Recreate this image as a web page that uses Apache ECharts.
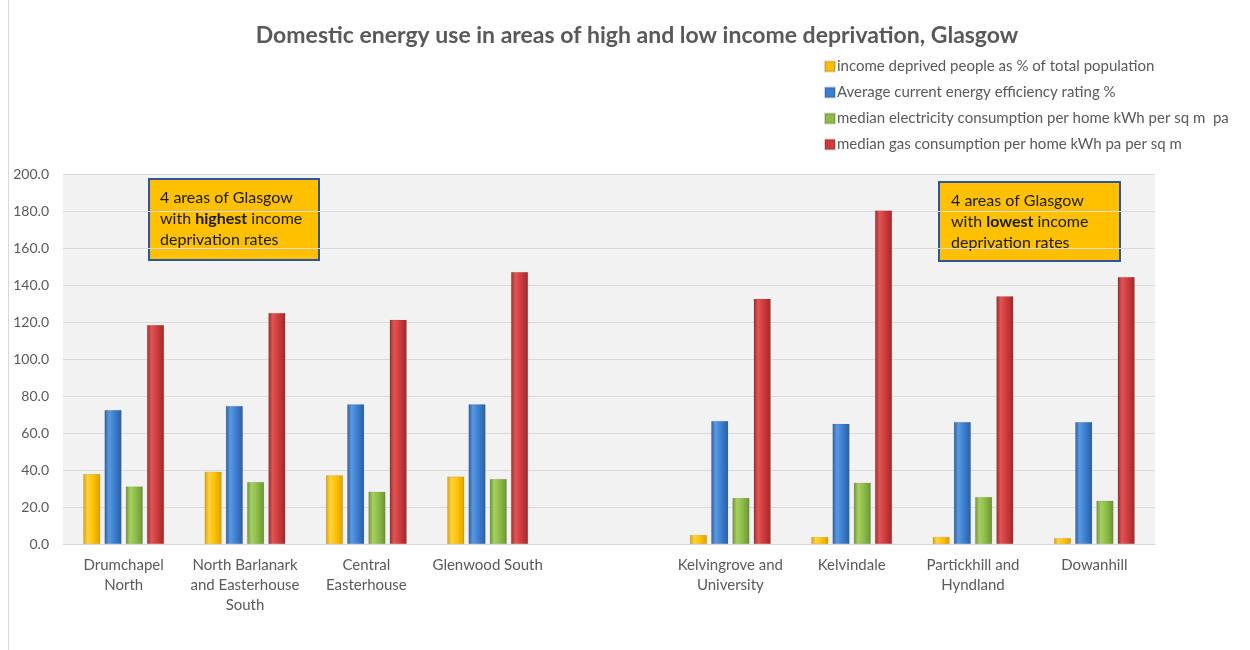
<!DOCTYPE html>
<html><head><meta charset="utf-8">
<script src="https://cdn.jsdelivr.net/npm/echarts@6/dist/echarts.min.js"></script>
<style>html,body{margin:0;padding:0;background:#fff}#c{width:1250px;height:650px}</style>
</head><body><div id="c"></div>
<script>
const categories = ["Drumchapel\nNorth", "North Barlanark\nand Easterhouse\nSouth", "Central\nEasterhouse", "Glenwood South", "", "Kelvingrove and\nUniversity", "Kelvindale", "Partickhill and\nHyndland", "Dowanhill"];
const incomeDeprived = [37.8, 39.1, 37.1, 36.5, null, 4.9, 3.8, 3.8, 3.2];
const energyEfficiency = [72.4, 74.6, 75.5, 75.5, null, 66.5, 65.0, 65.9, 65.9];
const electricity = [31.1, 33.5, 28.3, 35.1, null, 24.9, 33.1, 25.4, 23.4];
const gas = [118.4, 124.9, 121.2, 147.0, null, 132.6, 180.3, 133.9, 144.3];
const seriesNames = ["income deprived people as % of total population", "Average current energy efficiency rating %", "median electricity consumption per home kWh per sq m  pa", "median gas consumption per home kWh pa per sq m"];
const yTicks = [0, 20, 40, 60, 80, 100, 120, 140, 160, 180, 200];

const FONT = "Lato, 'Open Sans', sans-serif";
function grad(dark, mid, light) {
  return new echarts.graphic.LinearGradient(0, 0, 1, 0, [
    {offset: 0, color: dark}, {offset: 0.25, color: light}, {offset: 0.6, color: mid}, {offset: 1, color: dark}
  ]);
}
const colors = [
  grad('#d9a100', '#ffc000', '#ffd340'),
  grad('#2c5f9e', '#3b7dd0', '#5a98e0'),
  grad('#6d9234', '#8cbb47', '#a6cf61'),
  grad('#9c2a2b', '#cf3a3b', '#e05556')
];
const legendColors = ['#ffc000', '#3b7dd0', '#8cbb47', '#cf3a3b'];
const dataSets = [incomeDeprived, energyEfficiency, electricity, gas];

const chart = echarts.init(document.getElementById('c'));
chart.setOption({
  animation: false,
  backgroundColor: '#ffffff',
  title: {
    text: 'Domestic energy use in areas of high and low income deprivation, Glasgow',
    left: 632, top: 19, textAlign: 'center',
    textStyle: {fontFamily: FONT, fontSize: 23, fontWeight: 'bold', color: '#595959'}
  },
  legend: {
    orient: 'vertical', left: 819, top: 54, itemGap: 11,
    itemWidth: 10, itemHeight: 10, icon: 'rect',
    textStyle: {fontFamily: FONT, fontSize: 15, color: '#595959', padding: [0, 0, 0, -3]},
    data: seriesNames.map((n, i) => ({name: n, itemStyle: {color: legendColors[i]}}))
  },
  grid: {left: 63, right: 95, top: 174, bottom: 106, show: true, backgroundColor: '#f2f2f2', borderWidth: 0},
  xAxis: {
    type: 'category', data: categories,
    axisLine: {show: true, lineStyle: {color: '#d9d9d9'}},
    axisTick: {show: false},
    axisLabel: {fontFamily: FONT, fontSize: 15, color: '#595959', margin: 11, lineHeight: 20, interval: 0}
  },
  yAxis: {
    type: 'value', min: 0, max: 200, interval: 20,
    axisLine: {show: false}, axisTick: {show: false},
    splitLine: {lineStyle: {color: '#d9d9d9', width: 1}},
    axisLabel: {fontFamily: FONT, fontSize: 14, color: '#595959', margin: 14, formatter: v => v.toFixed(1)}
  },
  series: dataSets.map((d, i) => ({
    name: seriesNames[i], type: 'bar', data: d,
    barWidth: 17, barGap: '25%',
    itemStyle: {color: colors[i], borderColor: 'rgba(0,0,0,0.15)', borderWidth: 0.5}
  })),
  graphic: [
    {type: 'group', left: 148, top: 178, children: [
      {type: 'rect', shape: {x: 0, y: 0, width: 170, height: 81}, style: {fill: '#ffc000', stroke: '#2f5597', lineWidth: 2}},
      {type: 'text', x: 11, y: 8, style: {
        text: '4 areas of Glasgow\n{n|with }{b|highest}{n| income}\ndeprivation rates',
        font: '16px ' + FONT, fill: '#1a1a1a', lineHeight: 21,
        rich: {n: {fontFamily: FONT, fontSize: 16, fill: '#1a1a1a', lineHeight: 21}, b: {fontFamily: FONT, fontSize: 16, fontWeight: 'bold', fill: '#1a1a1a', lineHeight: 21}}
      }}
    ]},
    {type: 'group', left: 938, top: 181, children: [
      {type: 'rect', shape: {x: 0, y: 0, width: 181, height: 79}, style: {fill: '#ffc000', stroke: '#2f5597', lineWidth: 2}},
      {type: 'text', x: 12, y: 8, style: {
        text: '4 areas of Glasgow\n{n|with }{b|lowest}{n| income}\ndeprivation rates',
        font: '16px ' + FONT, fill: '#1a1a1a', lineHeight: 21,
        rich: {n: {fontFamily: FONT, fontSize: 16, fill: '#1a1a1a', lineHeight: 21}, b: {fontFamily: FONT, fontSize: 16, fontWeight: 'bold', fill: '#1a1a1a', lineHeight: 21}}
      }}
    ]},
    {type: 'line', shape: {x1: 8.5, y1: 0, x2: 8.5, y2: 650}, style: {stroke: '#d9d9d9', lineWidth: 1}}
  ]
});
</script></body></html>
